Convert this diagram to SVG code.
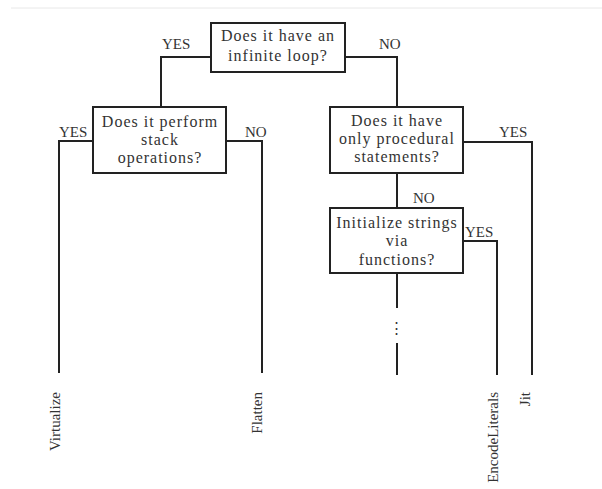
<svg xmlns="http://www.w3.org/2000/svg" width="602" height="489" viewBox="0 0 602 489">
  <style>
    .box { fill: #ffffff; stroke: #222222; stroke-width: 2; }
    .wire { fill: none; stroke: #222222; stroke-width: 2; }
    .q { font-family: "Liberation Serif", "DejaVu Serif", serif; font-size: 16px; letter-spacing: 1px; fill: #333333; text-anchor: middle; }
    .lbl { font-family: "Liberation Serif", "DejaVu Serif", serif; font-size: 15px; fill: #333333; }
    .leaf { font-family: "Liberation Serif", "DejaVu Serif", serif; font-size: 15px; fill: #333333; text-anchor: end; }
  </style>

  <rect width="602" height="489" fill="#ffffff"/>
  <line x1="11" y1="8" x2="602" y2="8" stroke="#e8e8e8" stroke-width="1"/>

  <!-- connectors -->
  <g id="connectors">
    <polyline class="wire" points="211,57 161,57 161,107"/>
    <polyline class="wire" points="345,57 397,57 397,107"/>
    <polyline class="wire" points="93,141 59,141 59,373"/>
    <polyline class="wire" points="226,141 262,141 262,373"/>
    <polyline class="wire" points="463,142 532,142 532,375"/>
    <line class="wire" x1="397" y1="173" x2="397" y2="208"/>
    <polyline class="wire" points="463,241 497,241 497,375"/>
    <line class="wire" x1="397" y1="273" x2="397" y2="308"/>
    <line class="wire" x1="397" y1="343" x2="397" y2="375"/>
    <text class="lbl" x="396" y="333" text-anchor="middle" font-size="14">⋮</text>

    <text class="lbl" x="162" y="49">YES</text>
    <text class="lbl" x="379" y="49">NO</text>
    <text class="lbl" x="59" y="137">YES</text>
    <text class="lbl" x="245" y="137">NO</text>
    <text class="lbl" x="499" y="137">YES</text>
    <text class="lbl" x="413" y="203">NO</text>
    <text class="lbl" x="465" y="237">YES</text>
  </g>

  <!-- decision nodes -->
  <g id="q-infinite-loop">
    <rect class="box" x="211" y="23" width="134" height="49"/>
    <text class="q" x="278" y="41">Does it have an</text>
    <text class="q" x="278" y="61">infinite loop?</text>
  </g>

  <g id="q-stack-ops">
    <rect class="box" x="93" y="107" width="133" height="66"/>
    <text class="q" x="160" y="127">Does it perform</text>
    <text class="q" x="160" y="145">stack</text>
    <text class="q" x="160" y="163">operations?</text>
  </g>

  <g id="q-procedural">
    <rect class="box" x="330" y="107" width="133" height="66"/>
    <text class="q" x="397" y="126">Does it have</text>
    <text class="q" x="397" y="144">only procedural</text>
    <text class="q" x="397" y="162">statements?</text>
  </g>

  <g id="q-init-strings">
    <rect class="box" x="330" y="208" width="133" height="65"/>
    <text class="q" x="397" y="228">Initialize strings</text>
    <text class="q" x="397" y="246">via</text>
    <text class="q" x="397" y="265">functions?</text>
  </g>

  <!-- leaf outcomes -->
  <g id="leaf-virtualize">
    <text class="leaf" transform="translate(60,392) rotate(-90)">Virtualize</text>
  </g>
  <g id="leaf-flatten">
    <text class="leaf" transform="translate(262,392) rotate(-90)">Flatten</text>
  </g>
  <g id="leaf-encodeliterals">
    <text class="leaf" transform="translate(498,392) rotate(-90)">EncodeLiterals</text>
  </g>
  <g id="leaf-jit">
    <text class="leaf" transform="translate(530,392) rotate(-90)">Jit</text>
  </g>
</svg>
